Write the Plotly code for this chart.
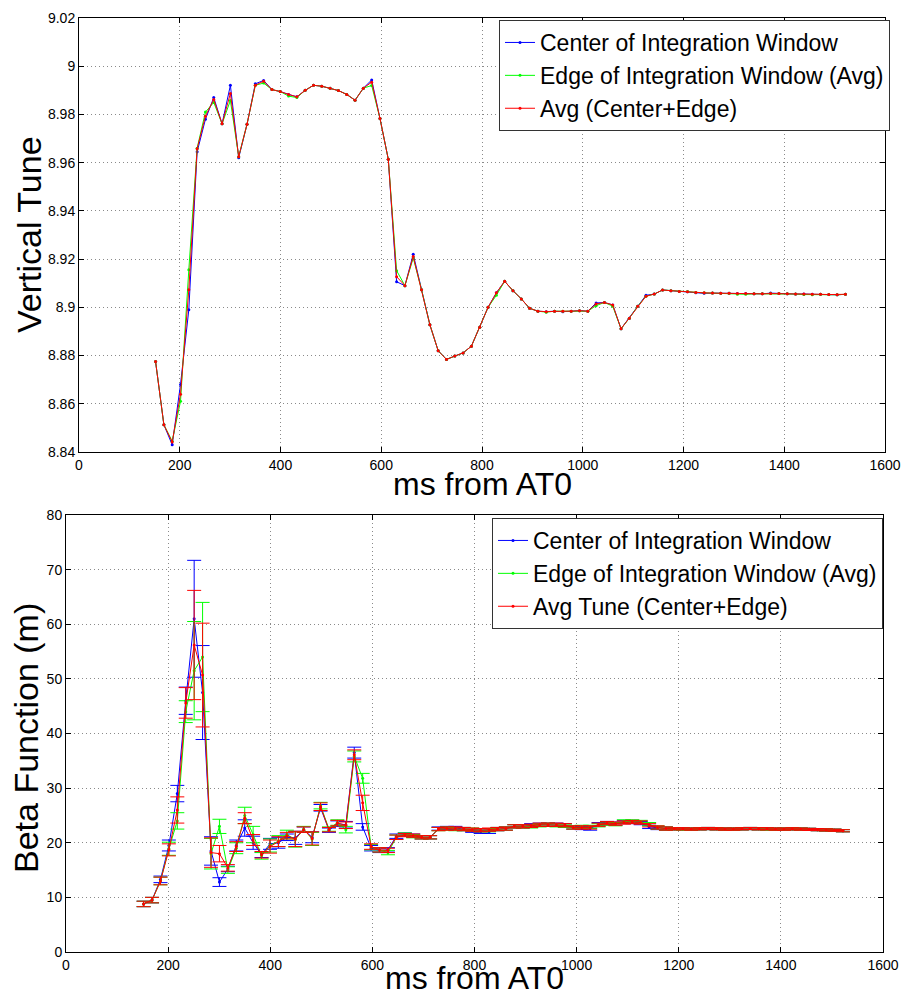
import plotly.graph_objects as go

# ---------------- data ----------------
X_MS = [152, 168.5, 185, 201.5, 218, 234.5, 251, 267.5, 284, 300.5,
        317, 333.5, 350, 366.5, 383, 399.5, 416, 432.5, 449, 465.5,
        482, 498.5, 515, 531.5, 548, 564.5, 581, 597.5, 614, 630.5,
        647, 663.5, 680, 696.5, 713, 729.5, 746, 762.5, 779, 795.5,
        812, 828.5, 845, 861.5, 878, 894.5, 911, 927.5, 944, 960.5,
        977, 993.5, 1010, 1026.5, 1043, 1059.5, 1076, 1092.5, 1109, 1125.5,
        1142, 1158.5, 1175, 1191.5, 1208, 1224.5, 1241, 1257.5, 1274, 1290.5,
        1307, 1323.5, 1340, 1356.5, 1373, 1389.5, 1406, 1422.5, 1439, 1455.5,
        1472, 1488.5, 1505, 1521.5]

tune_center = [8.8775, 8.8513, 8.8430, 8.8680, 8.8990, 8.9645, 8.9780, 8.9870, 8.9761, 8.9921,
               8.9620, 8.9759, 8.9927, 8.9941, 8.9903, 8.9895, 8.9883, 8.9873, 8.9900, 8.9921,
               8.9917, 8.9909, 8.9899, 8.9883, 8.9859, 8.9909, 8.9943, 8.9783, 8.9614, 8.9106,
               8.9090, 8.9220, 8.9073, 8.8928, 8.8820, 8.8784, 8.8798, 8.8811, 8.8839, 8.8917,
               8.9000, 8.9060, 8.9108, 8.9069, 8.9035, 8.8996, 8.8984, 8.8982, 8.8984, 8.8982,
               8.8984, 8.8986, 8.8984, 8.9018, 8.9020, 8.9010, 8.8911, 8.8955, 8.9004, 8.9050,
               8.9055, 8.9072, 8.9069, 8.9066, 8.9065, 8.9060, 8.9058, 8.9059, 8.9058, 8.9058,
               8.9057, 8.9057, 8.9056, 8.9056, 8.9059, 8.9057, 8.9056, 8.9055, 8.9055, 8.9054,
               8.9054, 8.9053, 8.9052, 8.9054]

tune_edge = [8.8775, 8.8513, 8.8445, 8.8610, 8.9156, 8.9660, 8.9810, 8.9850, 8.9761, 8.9858,
             8.9625, 8.9759, 8.9921, 8.9930, 8.9903, 8.9895, 8.9876, 8.9870, 8.9900, 8.9921,
             8.9917, 8.9909, 8.9899, 8.9883, 8.9859, 8.9909, 8.9920, 8.9783, 8.9614, 8.9152,
             8.9090, 8.9205, 8.9073, 8.8928, 8.8820, 8.8784, 8.8798, 8.8811, 8.8839, 8.8917,
             8.9000, 8.9050, 8.9108, 8.9069, 8.9035, 8.8996, 8.8984, 8.8980, 8.8984, 8.8984,
             8.8984, 8.8986, 8.8984, 8.9007, 8.9020, 8.9005, 8.8911, 8.8955, 8.9004, 8.9046,
             8.9055, 8.9072, 8.9069, 8.9066, 8.9066, 8.9062, 8.9060, 8.9059, 8.9058, 8.9058,
             8.9054, 8.9054, 8.9056, 8.9056, 8.9057, 8.9057, 8.9056, 8.9055, 8.9053, 8.9052,
             8.9054, 8.9053, 8.9052, 8.9054]

tune_avg = [8.8775, 8.8513, 8.8441, 8.8640, 8.9073, 8.9658, 8.9793, 8.9862, 8.9761, 8.9887,
            8.9625, 8.9759, 8.9921, 8.9938, 8.9903, 8.9895, 8.9883, 8.9873, 8.9900, 8.9921,
            8.9917, 8.9909, 8.9899, 8.9883, 8.9859, 8.9909, 8.9934, 8.9783, 8.9614, 8.9127,
            8.9090, 8.9211, 8.9073, 8.8928, 8.8820, 8.8784, 8.8798, 8.8811, 8.8839, 8.8917,
            8.9000, 8.9060, 8.9108, 8.9069, 8.9035, 8.8996, 8.8984, 8.8982, 8.8984, 8.8984,
            8.8984, 8.8986, 8.8984, 8.9014, 8.9020, 8.9010, 8.8911, 8.8955, 8.9004, 8.9046,
            8.9055, 8.9072, 8.9069, 8.9066, 8.9065, 8.9062, 8.9060, 8.9059, 8.9058, 8.9058,
            8.9057, 8.9057, 8.9056, 8.9056, 8.9057, 8.9057, 8.9056, 8.9055, 8.9055, 8.9054,
            8.9054, 8.9053, 8.9052, 8.9054]

beta_center = [8.8, 9.5, 13.3, 19.5, 29.0, 46.0, 61.0, 47.5, 18.5, 12.8,
               15.2, 19.5, 22.7, 20.0, 17.8, 19.8, 20.0, 21.0, 20.9, 22.4,
               21.0, 26.4, 22.3, 23.5, 23.3, 36.5, 22.9, 19.0, 18.6, 18.7,
               21.2, 21.5, 21.3, 21.0, 21.0, 22.6, 22.7, 22.7, 22.5, 22.2,
               22.0, 22.0, 22.5, 22.6, 23.0, 23.0, 23.2, 23.3, 23.3, 23.3,
               23.2, 22.8, 22.7, 22.6, 23.4, 23.6, 23.5, 23.8, 23.8, 23.6,
               22.9, 22.7, 22.6, 22.55, 22.55, 22.5, 22.55, 22.6, 22.55, 22.5,
               22.5, 22.55, 22.6, 22.55, 22.55, 22.5, 22.5, 22.55, 22.5, 22.45,
               22.4, 22.35, 22.3, 22.2]
beta_center_err = [0.5, 0.5, 0.6, 1.0, 1.5, 2.5, 10.7, 8.6, 2.6, 0.8,
                   0.5, 1.0, 1.5, 1.2, 0.5, 1.0, 1.0, 0.6, 1.2, 0.5,
                   1.0, 0.6, 0.4, 0.5, 0.6, 1.0, 0.6, 0.5, 0.4, 0.4,
                   0.4, 0.3, 0.3, 0.3, 0.3, 0.3, 0.3, 0.3, 0.3, 0.3,
                   0.3, 0.3, 0.3, 0.3, 0.3, 0.3, 0.3, 0.3, 0.3, 0.3,
                   0.3, 0.3, 0.3, 0.3, 0.3, 0.3, 0.3, 0.3, 0.3, 0.3,
                   0.3, 0.3, 0.3, 0.2, 0.2, 0.2, 0.2, 0.2, 0.2, 0.2,
                   0.2, 0.2, 0.2, 0.2, 0.2, 0.2, 0.2, 0.2, 0.2, 0.2,
                   0.2, 0.2, 0.2, 0.2]

beta_edge = [8.8, 9.5, 13.0, 18.9, 24.0, 44.0, 51.5, 54.0, 18.0, 23.0,
             15.0, 19.0, 25.0, 21.5, 17.6, 19.5, 20.3, 21.5, 20.6, 22.5,
             20.7, 26.8, 22.5, 23.7, 22.4, 35.8, 31.8, 19.2, 18.7, 18.2,
             21.0, 21.5, 21.2, 21.0, 21.0, 22.5, 22.6, 22.5, 22.5, 22.4,
             22.3, 22.3, 22.5, 22.6, 23.0, 23.0, 23.0, 23.2, 23.3, 23.2,
             23.1, 22.8, 22.9, 22.9, 23.2, 23.5, 23.4, 23.9, 23.9, 23.8,
             23.4, 22.8, 22.6, 22.55, 22.5, 22.5, 22.55, 22.6, 22.55, 22.5,
             22.5, 22.55, 22.6, 22.55, 22.5, 22.5, 22.5, 22.55, 22.5, 22.45,
             22.4, 22.35, 22.3, 22.2]
beta_edge_err = [0.5, 0.5, 0.7, 1.2, 1.5, 2.0, 9.0, 10.0, 2.8, 1.3,
                 0.6, 1.0, 1.5, 1.5, 0.6, 1.2, 1.0, 0.8, 1.4, 0.5,
                 1.2, 0.6, 0.4, 0.5, 0.6, 1.0, 0.9, 0.5, 0.4, 0.4,
                 0.4, 0.3, 0.3, 0.3, 0.3, 0.3, 0.3, 0.3, 0.3, 0.3,
                 0.3, 0.3, 0.3, 0.3, 0.3, 0.3, 0.3, 0.3, 0.3, 0.3,
                 0.3, 0.3, 0.3, 0.3, 0.3, 0.3, 0.3, 0.3, 0.3, 0.3,
                 0.3, 0.3, 0.3, 0.2, 0.2, 0.2, 0.2, 0.2, 0.2, 0.2,
                 0.2, 0.2, 0.2, 0.2, 0.2, 0.2, 0.2, 0.2, 0.2, 0.2,
                 0.2, 0.2, 0.2, 0.2]

beta_avg = [8.8, 9.5, 13.0, 18.7, 26.0, 45.6, 56.2, 50.7, 18.2, 18.0,
            15.4, 19.3, 24.5, 20.5, 17.8, 19.3, 20.2, 21.3, 20.7, 22.4,
            20.8, 26.6, 22.4, 23.6, 23.2, 36.1, 27.3, 19.3, 18.7, 18.6,
            21.0, 21.4, 21.3, 21.0, 21.0, 22.5, 22.6, 22.6, 22.5, 22.4,
            22.3, 22.4, 22.5, 22.6, 23.0, 23.0, 23.1, 23.3, 23.3, 23.3,
            23.2, 22.8, 22.8, 22.8, 23.3, 23.6, 23.5, 23.7, 23.8, 23.7,
            23.2, 22.8, 22.6, 22.55, 22.55, 22.5, 22.55, 22.6, 22.55, 22.5,
            22.5, 22.55, 22.6, 22.55, 22.55, 22.5, 22.5, 22.55, 22.5, 22.45,
            22.4, 22.35, 22.3, 22.2]
beta_avg_err = [0.5, 0.5, 0.7, 1.1, 2.4, 2.8, 10.0, 9.5, 2.7, 1.5,
                0.6, 0.9, 1.0, 1.0, 0.6, 1.2, 0.9, 0.6, 1.4, 0.5,
                1.2, 0.7, 0.4, 0.5, 0.6, 0.9, 1.4, 0.5, 0.4, 0.4,
                0.4, 0.3, 0.3, 0.3, 0.3, 0.3, 0.3, 0.3, 0.3, 0.3,
                0.3, 0.3, 0.3, 0.3, 0.3, 0.3, 0.3, 0.3, 0.3, 0.3,
                0.3, 0.3, 0.3, 0.3, 0.3, 0.3, 0.3, 0.3, 0.3, 0.3,
                0.3, 0.3, 0.3, 0.2, 0.2, 0.2, 0.2, 0.2, 0.2, 0.2,
                0.2, 0.2, 0.2, 0.2, 0.2, 0.2, 0.2, 0.2, 0.2, 0.2,
                0.2, 0.2, 0.2, 0.2]

X_TICKS = [0, 200, 400, 600, 800, 1000, 1200, 1400, 1600]
X_TICKTEXT = ["0", "200", "400", "600", "800", "1000", "1200", "1400", "1600"]
TUNE_TICKS = [8.84, 8.86, 8.88, 8.90, 8.92, 8.94, 8.96, 8.98, 9.00, 9.02]
TUNE_TICKTEXT = ["8.84", "8.86", "8.88", "8.9", "8.92", "8.94", "8.96", "8.98", "9", "9.02"]
BETA_TICKS = [0, 10, 20, 30, 40, 50, 60, 70, 80]
BETA_TICKTEXT = ["0", "10", "20", "30", "40", "50", "60", "70", "80"]

TOP_NAMES = ["Center of Integration Window", "Edge of Integration Window (Avg)", "Avg (Center+Edge)"]
BOT_NAMES = ["Center of Integration Window", "Edge of Integration Window (Avg)", "Avg Tune (Center+Edge)"]
COLORS = ["#0000ff", "#00ff00", "#ff0000"]

X_TITLE = "ms from AT0"
TOP_Y_TITLE = "Vertical Tune"
BOT_Y_TITLE = "Beta Function (m)"

# ---------------- figure ----------------
W, H = 903, 998
FONT = "Liberation Sans"

fig = go.Figure()

for name, ys, col in zip(TOP_NAMES, [tune_center, tune_edge, tune_avg], COLORS):
    fig.add_trace(go.Scatter(
        x=X_MS, y=ys, name=name, mode="lines+markers",
        line=dict(color=col, width=1),
        marker=dict(color=col, size=3),
        xaxis="x", yaxis="y", legend="legend"))

for name, ys, es, col in zip(BOT_NAMES, [beta_center, beta_edge, beta_avg],
                             [beta_center_err, beta_edge_err, beta_avg_err], COLORS):
    fig.add_trace(go.Scatter(
        x=X_MS, y=ys, name=name, mode="lines+markers",
        line=dict(color=col, width=1),
        marker=dict(color=col, size=3),
        error_y=dict(type="data", array=es, visible=True, color=col,
                     thickness=1, width=7),
        xaxis="x2", yaxis="y2", legend="legend2"))

axis_common = dict(
    showgrid=True, gridcolor="#8a8a8a", griddash="1px,3px", gridwidth=1,
    showline=True, linecolor="black", linewidth=1, mirror="ticks",
    ticks="inside", ticklen=5, tickcolor="black",
    tickfont=dict(family=FONT, size=14, color="black"),
    zeroline=False, automargin=False,
)
ytitle_font = dict(family=FONT, size=34, color="black")
xtitle_font = dict(family=FONT, size=32, color="black")

# plot-area boxes in pixels (left, right, top, bottom)
TOP_BOX = (79, 885, 18, 452)
BOT_BOX = (66, 883, 515, 952)

fig.update_layout(
    width=W, height=H,
    margin=dict(l=0, r=0, t=0, b=0),
    paper_bgcolor="white", plot_bgcolor="white",
    showlegend=True,
    xaxis=dict(domain=[TOP_BOX[0] / W, TOP_BOX[1] / W], range=[0, 1600], anchor="y",
               tickvals=X_TICKS, ticktext=X_TICKTEXT, **axis_common),
    yaxis=dict(domain=[1 - TOP_BOX[3] / H, 1 - TOP_BOX[2] / H], range=[8.84, 9.02], anchor="x",
               tickvals=TUNE_TICKS, ticktext=TUNE_TICKTEXT, **axis_common),
    xaxis2=dict(domain=[BOT_BOX[0] / W, BOT_BOX[1] / W], range=[0, 1600], anchor="y2",
                tickvals=X_TICKS, ticktext=X_TICKTEXT, **axis_common),
    yaxis2=dict(domain=[1 - BOT_BOX[3] / H, 1 - BOT_BOX[2] / H], range=[0, 80], anchor="x2",
                tickvals=BETA_TICKS, ticktext=BETA_TICKTEXT, **axis_common),
    legend=dict(x=499 / W, y=1 - 20 / H, xanchor="left", yanchor="top",
                bgcolor="white", bordercolor="#333333", borderwidth=1,
                font=dict(family=FONT, size=23, color="black"),
                itemwidth=30, tracegroupgap=0),
    legend2=dict(x=492 / W, y=1 - 518 / H, xanchor="left", yanchor="top",
                 bgcolor="white", bordercolor="#333333", borderwidth=1,
                 font=dict(family=FONT, size=23, color="black"),
                 itemwidth=30, tracegroupgap=0),
)

# axis titles placed as annotations for precise positioning
def ann(text, xpx, ypx, angle=0, font=ytitle_font, yanchor="middle"):
    fig.add_annotation(text=text, x=xpx / W, y=1 - ypx / H, xref="paper", yref="paper",
                       xanchor="center", yanchor=yanchor, showarrow=False,
                       textangle=angle, font=font)

ann(X_TITLE, (TOP_BOX[0] + TOP_BOX[1]) / 2, 484, font=xtitle_font)
ann(X_TITLE, (BOT_BOX[0] + BOT_BOX[1]) / 2, H, font=xtitle_font, yanchor="bottom")
ann(TOP_Y_TITLE, 29, (TOP_BOX[2] + TOP_BOX[3]) / 2, -90)
ann(BOT_Y_TITLE, 26, 738, -90)

fig.write_html("out.html")
